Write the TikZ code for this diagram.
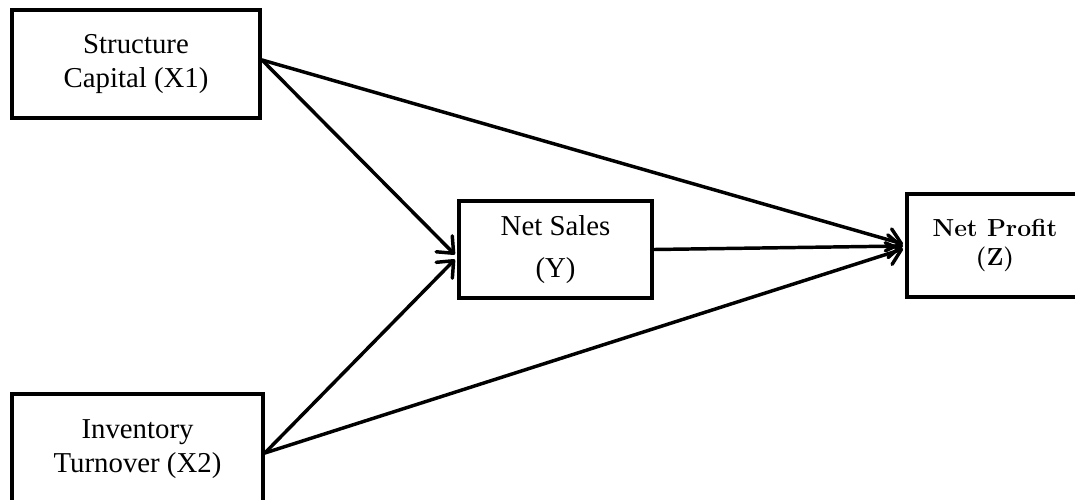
\documentclass[tikz,border=0pt]{standalone}
\usepackage{fontspec}
\setmainfont{Liberation Serif}
\newfontfamily\lmbold{Latin Modern Roman}
\usetikzlibrary{arrows.meta,calc}
\tikzset{
  boxnode/.style={draw=black, line width=3pt, rectangle, inner sep=0pt, align=center},
  conn/.style={line width=2.6pt, line cap=round, -{Straight Barb[length=10pt,width=17pt,line cap=round,line join=round]}},
}
\begin{document}
\begin{tikzpicture}[x=0.75pt,y=-0.75pt]
\useasboundingbox (0,0) rectangle (1075,500);
\begin{scope}
\clip (0,0) rectangle (1075,500);
\node[boxnode, minimum width=186pt, minimum height=81pt,
  font=\fontsize{21.6}{25.5}\selectfont] (x1) at (136,64) {Structure\\Capital (X1)};
\node[boxnode, minimum width=188pt, minimum height=82.5pt,
  font=\fontsize{21.6}{25.5}\selectfont] (x2) at (137.5,449) {Inventory\\Turnover (X2)};
\node[boxnode, minimum width=145pt, minimum height=73pt,
  font=\fontsize{21.6}{31.5}\selectfont] (y) at (555.5,249.5) {Net Sales\\(Y)};
\node[boxnode, minimum width=132pt, minimum height=77pt,
  font=\lmbold\bfseries\fontsize{18.5}{25}\selectfont] (z) at (995,245.5) {\raisebox{-3pt}{Net Profit}\\(Z)};
\end{scope}
\coordinate (x1o) at ($(x1.east)+(0,-4)$);
\coordinate (x2o) at ($(x2.east)+(0,4)$);
\draw[conn] (x1o) -- ($(y.west)+(-2,5)$);
\draw[conn] (x2o) -- ($(y.west)+(-2,10)$);
\draw[conn] (x1o) -- ($(z.west)+(-2,-1.5)$);
\draw[conn] (x2o) -- ($(z.west)+(-2,3.5)$);
\draw[conn] (y.east) -- ($(z.west)+(-2,0.5)$);
\end{tikzpicture}
\end{document}
